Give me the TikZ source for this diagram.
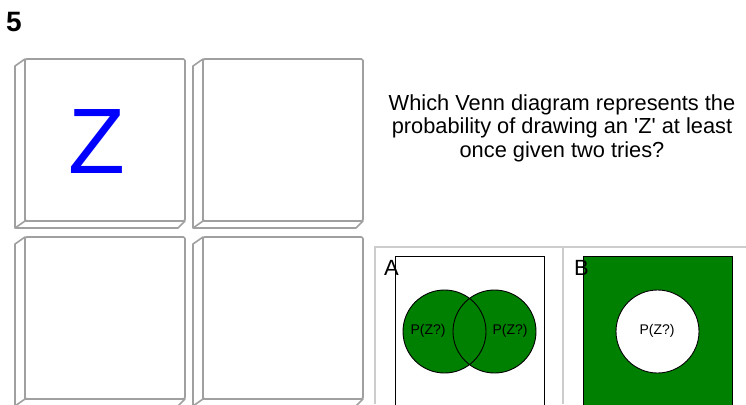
\documentclass[tikz,border=0pt]{standalone}
\usepackage{fontspec}
\setmainfont{Liberation Sans}[Ligatures=TeXOff]
\definecolor{tilegray}{RGB}{160,160,160}
\definecolor{gridgray}{RGB}{204,204,204}
\definecolor{venngreen}{RGB}{0,128,0}
\begin{document}
\begin{tikzpicture}[x=1pt,y=-1pt,
  tileedge/.style={draw=tilegray,line width=1.6pt,line join=round},
  qtext/.style={font=\fontsize{21.8}{24}\selectfont,anchor=base,inner sep=0},
  plabel/.style={font=\fontsize{14}{16}\selectfont,inner sep=0},
  letterlabel/.style={font=\fontsize{22}{24}\selectfont,anchor=base west,inner sep=0},
  venn/.style={draw=black,line width=0.9pt}]
\useasboundingbox (0,0) rectangle (746,404);
\fill[white] (0,0) rectangle (746,404);
% title number
\node[font=\bfseries\fontsize{28}{30}\selectfont,anchor=base west,inner sep=0] (num) at (6,32) {5};
% tiles
\foreach \nm/\x/\y in {t1/25/59,t2/203/59,t3/25/237,t4/203/237}{
  \begin{scope}[shift={(\x,\y)}]
    \draw[tileedge,fill=white] (0,0) -- (-10,7) -- (-10,169) -- (153,169) -- (160,162) -- (0,162) -- cycle;
    \draw[tileedge] (0,162) -- (-10,169);
    \draw[tileedge,fill=white,rounded corners=1.5pt] (0,0) rectangle (160,162);
    \coordinate (\nm) at (80,81);
  \end{scope}
}
\node[text=blue,font=\fontsize{93}{93}\selectfont,inner sep=0] (z) at (97,142) {Z};
% question
\node[qtext] (q1) at (562,110) {Which Venn diagram represents the};
\node[qtext] (q2) at (562,133) {probability of drawing an 'Z' at least};
\node[qtext] (q3) at (562,157) {once given two tries?};
% answer grid
\draw[gridgray,line width=1.5pt] (375,404) -- (375,247) -- (746,247);
\draw[gridgray,line width=1.5pt] (563,247) -- (563,404);
% option A
\draw[black,line width=0.9pt] (395,406) -- (395,256) -- (544,256) -- (544,406);
\fill[venngreen] (444.5,331.5) circle (41.5);
\fill[venngreen] (494.5,331.5) circle (41.5);
\draw[venn] (444.5,331.5) circle (41.5);
\draw[venn] (494.5,331.5) circle (41.5);
\node[plabel] (pa1) at (428,331) {P(Z?)};
\node[plabel] (pa2) at (510,331) {P(Z?)};
\node[letterlabel] (la) at (384,275) {A};
% option B
\fill[venngreen,draw=black,line width=0.9pt] (583,406) -- (583,256) -- (732,256) -- (732,406);
\draw[venn,fill=white] (657.5,331.5) circle (41.5);
\node[plabel] (pb) at (657,331) {P(Z?)};
\node[letterlabel] (lb) at (574,275) {B};
\end{tikzpicture}
\end{document}
